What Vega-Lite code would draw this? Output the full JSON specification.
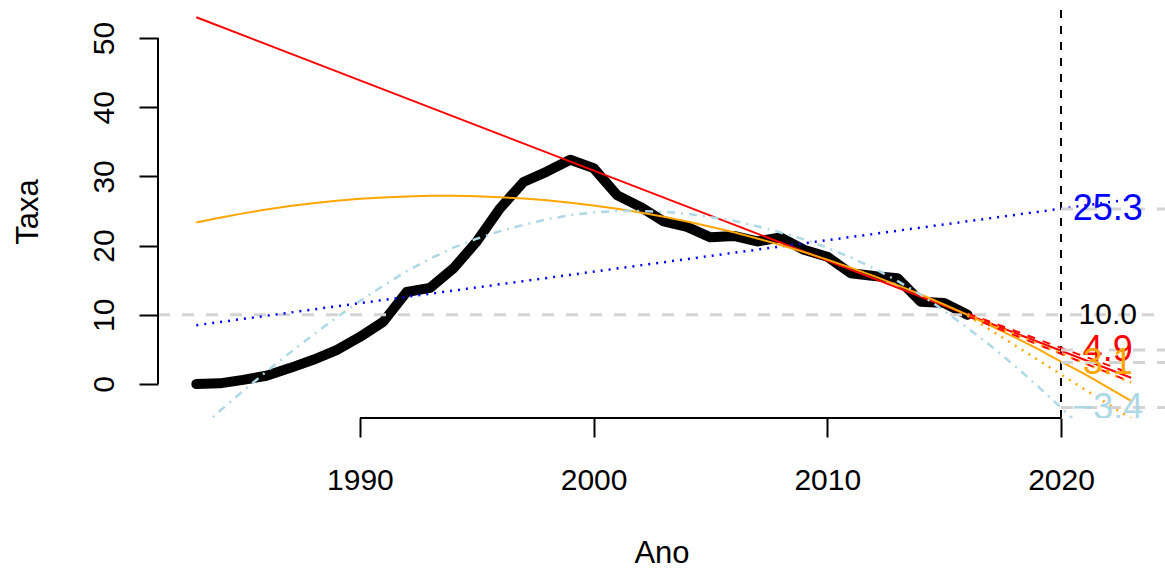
{
  "$schema": "https://vega.github.io/schema/vega-lite/v6.json",
  "autosize": {"type": "none"},
  "padding": {"left": 158, "top": 5, "right": 0, "bottom": 150},
  "width": 1007,
  "height": 413,
  "background": "white",
  "config": {"view": {"stroke": null}, "font": "Liberation Sans"},
  "datasets": {
    "obs": [
      {"Ano": 1983, "Taxa": 0.0}, {"Ano": 1984, "Taxa": 0.1}, {"Ano": 1985, "Taxa": 0.6}, {"Ano": 1986, "Taxa": 1.2},
      {"Ano": 1987, "Taxa": 2.3}, {"Ano": 1988, "Taxa": 3.5}, {"Ano": 1989, "Taxa": 4.9}, {"Ano": 1990, "Taxa": 6.8},
      {"Ano": 1991, "Taxa": 9.0}, {"Ano": 1992, "Taxa": 13.3}, {"Ano": 1993, "Taxa": 13.9}, {"Ano": 1994, "Taxa": 16.7},
      {"Ano": 1995, "Taxa": 20.6}, {"Ano": 1996, "Taxa": 25.4}, {"Ano": 1997, "Taxa": 29.2}, {"Ano": 1998, "Taxa": 30.7},
      {"Ano": 1999, "Taxa": 32.4}, {"Ano": 2000, "Taxa": 31.2}, {"Ano": 2001, "Taxa": 27.3}, {"Ano": 2002, "Taxa": 25.6},
      {"Ano": 2003, "Taxa": 23.5}, {"Ano": 2004, "Taxa": 22.7}, {"Ano": 2005, "Taxa": 21.2}, {"Ano": 2006, "Taxa": 21.4},
      {"Ano": 2007, "Taxa": 20.6}, {"Ano": 2008, "Taxa": 21.2}, {"Ano": 2009, "Taxa": 19.4}, {"Ano": 2010, "Taxa": 18.4},
      {"Ano": 2011, "Taxa": 16.0}, {"Ano": 2012, "Taxa": 15.6}, {"Ano": 2013, "Taxa": 15.3}, {"Ano": 2014, "Taxa": 11.9},
      {"Ano": 2015, "Taxa": 11.7}, {"Ano": 2016, "Taxa": 10.0}
    ],
    "linear_recente": [{"Ano": 1983, "Taxa": 53.0}, {"Ano": 2023, "Taxa": 0.9}],
    "linear_total": [{"Ano": 1983, "Taxa": 8.5}, {"Ano": 2023, "Taxa": 26.7}],
    "quadratico": [
      {"Ano": 1983, "Taxa": 23.35}, {"Ano": 1984, "Taxa": 24.04}, {"Ano": 1985, "Taxa": 24.66}, {"Ano": 1986, "Taxa": 25.22},
      {"Ano": 1987, "Taxa": 25.71}, {"Ano": 1988, "Taxa": 26.12}, {"Ano": 1989, "Taxa": 26.47}, {"Ano": 1990, "Taxa": 26.76},
      {"Ano": 1991, "Taxa": 26.97}, {"Ano": 1992, "Taxa": 27.11}, {"Ano": 1993, "Taxa": 27.19}, {"Ano": 1994, "Taxa": 27.19},
      {"Ano": 1995, "Taxa": 27.13}, {"Ano": 1996, "Taxa": 27.0}, {"Ano": 1997, "Taxa": 26.8}, {"Ano": 1998, "Taxa": 26.54},
      {"Ano": 1999, "Taxa": 26.2}, {"Ano": 2000, "Taxa": 25.8}, {"Ano": 2001, "Taxa": 25.32}, {"Ano": 2002, "Taxa": 24.78},
      {"Ano": 2003, "Taxa": 24.17}, {"Ano": 2004, "Taxa": 23.49}, {"Ano": 2005, "Taxa": 22.74}, {"Ano": 2006, "Taxa": 21.93},
      {"Ano": 2007, "Taxa": 21.04}, {"Ano": 2008, "Taxa": 20.09}, {"Ano": 2009, "Taxa": 19.07}, {"Ano": 2010, "Taxa": 17.97},
      {"Ano": 2011, "Taxa": 16.82}, {"Ano": 2012, "Taxa": 15.59}, {"Ano": 2013, "Taxa": 14.29}, {"Ano": 2014, "Taxa": 12.93},
      {"Ano": 2015, "Taxa": 11.49}, {"Ano": 2016, "Taxa": 9.99}, {"Ano": 2017, "Taxa": 8.42}, {"Ano": 2018, "Taxa": 6.78},
      {"Ano": 2019, "Taxa": 5.07}, {"Ano": 2020, "Taxa": 3.25}, {"Ano": 2021, "Taxa": 1.45}, {"Ano": 2022, "Taxa": -0.47},
      {"Ano": 2023, "Taxa": -2.45}
    ],
    "cubico": [
      {"Ano": 1983, "Taxa": -6.9}, {"Ano": 1984, "Taxa": -3.9}, {"Ano": 1985, "Taxa": -1.0}, {"Ano": 1986, "Taxa": 1.8},
      {"Ano": 1987, "Taxa": 4.5}, {"Ano": 1988, "Taxa": 7.1}, {"Ano": 1989, "Taxa": 9.6}, {"Ano": 1990, "Taxa": 12.0},
      {"Ano": 1991, "Taxa": 14.2}, {"Ano": 1992, "Taxa": 16.3}, {"Ano": 1993, "Taxa": 18.1}, {"Ano": 1994, "Taxa": 19.7},
      {"Ano": 1995, "Taxa": 21.0}, {"Ano": 1996, "Taxa": 22.1}, {"Ano": 1997, "Taxa": 23.0}, {"Ano": 1998, "Taxa": 23.8},
      {"Ano": 1999, "Taxa": 24.4}, {"Ano": 2000, "Taxa": 24.8}, {"Ano": 2001, "Taxa": 25.0}, {"Ano": 2002, "Taxa": 25.0},
      {"Ano": 2003, "Taxa": 24.9}, {"Ano": 2004, "Taxa": 24.6}, {"Ano": 2005, "Taxa": 24.1}, {"Ano": 2006, "Taxa": 23.6},
      {"Ano": 2007, "Taxa": 22.8}, {"Ano": 2008, "Taxa": 21.9}, {"Ano": 2009, "Taxa": 20.9}, {"Ano": 2010, "Taxa": 19.7},
      {"Ano": 2011, "Taxa": 18.3}, {"Ano": 2012, "Taxa": 16.7}, {"Ano": 2013, "Taxa": 14.9}, {"Ano": 2014, "Taxa": 12.9},
      {"Ano": 2015, "Taxa": 10.6}, {"Ano": 2016, "Taxa": 8.1}, {"Ano": 2017, "Taxa": 5.5}, {"Ano": 2018, "Taxa": 2.7},
      {"Ano": 2019, "Taxa": -0.3}, {"Ano": 2020, "Taxa": -3.4}, {"Ano": 2021, "Taxa": -6.7}
    ],
    "ic_linear": [
      {"Ano": 2016, "Taxa": 10.2, "limite": "superior"}, {"Ano": 2023, "Taxa": 1.5, "limite": "superior"},
      {"Ano": 2016, "Taxa": 9.8, "limite": "inferior"}, {"Ano": 2023, "Taxa": 0.3, "limite": "inferior"}
    ],
    "ic_quadratico": [
      {"Ano": 2016, "Taxa": 10.1, "limite": "superior"}, {"Ano": 2023, "Taxa": 0.2, "limite": "superior"},
      {"Ano": 2016, "Taxa": 9.9, "limite": "inferior"}, {"Ano": 2023, "Taxa": -5.0, "limite": "inferior"}
    ],
    "previsoes": [
      {"modelo": "linear_total", "Taxa": 25.3, "rotulo": "25.3"},
      {"modelo": "linear_recente", "Taxa": 4.9, "rotulo": "4.9"},
      {"modelo": "quadratico", "Taxa": 3.1, "rotulo": "3.1"},
      {"modelo": "cubico", "Taxa": -3.4, "rotulo": "−3.4"}
    ],
    "meta": [{"Taxa": 10, "rotulo": "10.0"}],
    "ano_previsao": [{"Ano": 2020}]
  },
  "layer": [
    {
      "data": {"name": "obs"},
      "mark": {"type": "line", "color": "black", "strokeWidth": 10, "strokeCap": "round", "strokeJoin": "round"},
      "encoding": {
        "x": {
          "field": "Ano", "type": "quantitative",
          "scale": {"domain": [1981.36, 2024.45], "nice": false, "zero": false},
          "axis": {
            "values": [1990, 2000, 2010, 2020], "format": "d", "domain": false, "grid": false,
            "tickSize": 19, "tickWidth": 2, "tickColor": "black",
            "labelFontSize": 30, "labelColor": "black", "labelFont": "Liberation Sans", "labelPadding": 28,
            "labelFlush": false, "labelOverlap": false,
            "title": "Ano", "titleFontSize": 31, "titleFontWeight": "normal", "titleColor": "black",
            "titleFont": "Liberation Sans", "titleBaseline": "alphabetic", "titleY": 144
          }
        },
        "y": {
          "field": "Taxa", "type": "quantitative",
          "scale": {"domain": [-4.91, 54.77], "nice": false, "zero": false},
          "axis": {
            "values": [0, 10, 20, 30, 40, 50], "domain": false, "grid": false,
            "tickSize": 19, "tickWidth": 2, "tickColor": "black",
            "labelFontSize": 30, "labelColor": "black", "labelFont": "Liberation Sans",
            "labelAngle": -90, "labelAlign": "center", "labelBaseline": "alphabetic", "labelPadding": 26,
            "labelFlush": false, "labelOverlap": false,
            "title": "Taxa", "titleFontSize": 31, "titleFontWeight": "normal", "titleColor": "black",
            "titleFont": "Liberation Sans", "titleAngle": -90, "titleBaseline": "alphabetic", "titleX": -121
          }
        }
      }
    },
    {
      "data": {"name": "meta"},
      "mark": {"type": "rule", "color": "#D3D3D3", "strokeWidth": 3, "strokeDash": [12, 12]},
      "encoding": {
        "x": {"datum": 1981.36, "type": "quantitative"},
        "x2": {"datum": 2024.45},
        "y": {"field": "Taxa", "type": "quantitative"}
      }
    },
    {
      "data": {"name": "ano_previsao"},
      "mark": {"type": "rule", "color": "black", "strokeWidth": 2, "strokeDash": [8, 8]},
      "encoding": {
        "x": {"field": "Ano", "type": "quantitative"},
        "y": {"datum": -4.91, "type": "quantitative"},
        "y2": {"datum": 54.77}
      }
    },
    {
      "data": {"name": "linear_recente"},
      "mark": {"type": "line", "color": "#FF0000", "strokeWidth": 2, "clip": true},
      "encoding": {
        "x": {"field": "Ano", "type": "quantitative"},
        "y": {"field": "Taxa", "type": "quantitative"}
      }
    },
    {
      "data": {"name": "linear_total"},
      "mark": {"type": "line", "color": "#0000FF", "strokeWidth": 2.5, "strokeDash": [2, 6], "clip": true},
      "encoding": {
        "x": {"field": "Ano", "type": "quantitative"},
        "y": {"field": "Taxa", "type": "quantitative"}
      }
    },
    {
      "data": {"name": "quadratico"},
      "mark": {"type": "line", "color": "#FFA500", "strokeWidth": 2, "clip": true},
      "encoding": {
        "x": {"field": "Ano", "type": "quantitative"},
        "y": {"field": "Taxa", "type": "quantitative"}
      }
    },
    {
      "data": {"name": "cubico"},
      "mark": {"type": "line", "color": "#ADD8E6", "strokeWidth": 2.5, "strokeDash": [2, 6, 8, 6], "clip": true},
      "encoding": {
        "x": {"field": "Ano", "type": "quantitative"},
        "y": {"field": "Taxa", "type": "quantitative"}
      }
    },
    {
      "data": {"name": "ic_linear"},
      "mark": {"type": "line", "color": "#FF0000", "strokeWidth": 2, "strokeDash": [8, 8], "clip": true},
      "encoding": {
        "x": {"field": "Ano", "type": "quantitative"},
        "y": {"field": "Taxa", "type": "quantitative"},
        "detail": {"field": "limite"}
      }
    },
    {
      "data": {"name": "ic_quadratico"},
      "mark": {"type": "line", "color": "#FFA500", "strokeWidth": 2.5, "strokeDash": [2, 6], "clip": true},
      "encoding": {
        "x": {"field": "Ano", "type": "quantitative"},
        "y": {"field": "Taxa", "type": "quantitative"},
        "detail": {"field": "limite"}
      }
    },
    {
      "data": {"name": "previsoes"},
      "mark": {"type": "rule", "color": "#D3D3D3", "strokeWidth": 3, "strokeDash": [12, 12], "clip": true},
      "encoding": {
        "x": {"datum": 2020, "type": "quantitative"},
        "x2": {"datum": 2024.45},
        "y": {"field": "Taxa", "type": "quantitative"}
      }
    },
    {
      "data": {"name": "meta"},
      "mark": {"type": "text", "color": "black", "fontSize": 30, "font": "Liberation Sans", "align": "center", "baseline": "middle", "clip": true},
      "encoding": {
        "x": {"datum": 2022, "type": "quantitative"},
        "y": {"field": "Taxa", "type": "quantitative"},
        "text": {"field": "rotulo"}
      }
    },
    {
      "data": {"name": "previsoes"},
      "mark": {"type": "text", "fontSize": 36, "font": "Liberation Sans", "align": "center", "baseline": "middle", "clip": true},
      "encoding": {
        "x": {"datum": 2022, "type": "quantitative"},
        "y": {"field": "Taxa", "type": "quantitative"},
        "text": {"field": "rotulo"},
        "color": {
          "field": "modelo", "type": "nominal", "legend": null,
          "scale": {"domain": ["linear_total", "linear_recente", "quadratico", "cubico"], "range": ["#0000FF", "#FF0000", "#FFA500", "#ADD8E6"]}
        }
      }
    },
    {
      "data": {"values": [{}]},
      "mark": {"type": "rule", "color": "black", "strokeWidth": 2},
      "encoding": {
        "x": {"datum": 1990, "type": "quantitative"},
        "x2": {"datum": 2020},
        "y": {"datum": -4.91, "type": "quantitative"}
      }
    },
    {
      "data": {"values": [{}]},
      "mark": {"type": "rule", "color": "black", "strokeWidth": 2},
      "encoding": {
        "x": {"datum": 1981.36, "type": "quantitative"},
        "y": {"datum": 0, "type": "quantitative"},
        "y2": {"datum": 50}
      }
    }
  ]
}
